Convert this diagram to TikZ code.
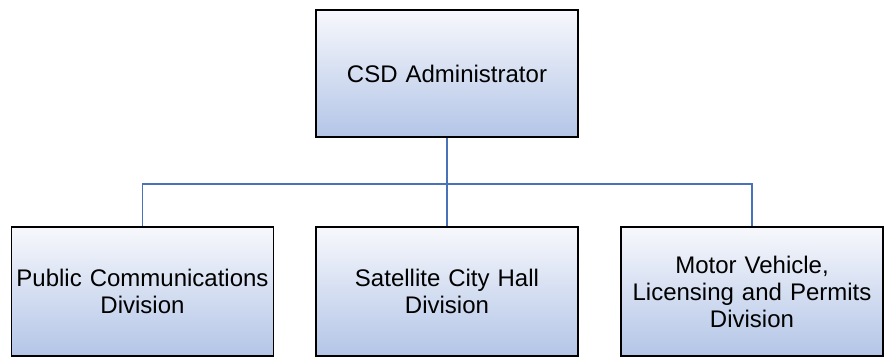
\documentclass[tikz,border=0pt]{standalone}
\usepackage{fontspec}
\setmainfont{Liberation Sans}
\definecolor{boxtop}{HTML}{F7F8FC}
\definecolor{boxbottom}{HTML}{B3C5E7}
\definecolor{linkblue}{HTML}{4A72B8}
\tikzset{
  unit/.style={draw=black, line width=1.6pt, top color=boxtop, bottom color=boxbottom,
    minimum width=262pt, inner sep=0pt, align=center, text width=256pt,
    font=\fontsize{24}{27}\selectfont},
  link/.style={draw=linkblue, line width=1.6pt}
}
\begin{document}
\begin{tikzpicture}[x=1pt,y=1pt]
      \useasboundingbox (0,0) rectangle (885,358);
      \node[unit, minimum height=127pt] (admin) at (447,284.5) {CSD Administrator};
      \node[unit, minimum height=129pt] (pcd) at (142.5,66.5) {Public Communications\\Division};
      \node[unit, minimum height=129pt] (sch) at (447,66.5) {Satellite City Hall\\Division};
      \node[unit, minimum height=129pt] (mvd) at (752,66.5) {Motor Vehicle,\\Licensing and Permits\\Division};
      \coordinate (bus) at (447,174);
      \draw[link] (admin.south) -- (bus) -- (sch.north);
      \draw[link] (pcd.north) |- (bus) -| (mvd.north);
    \end{tikzpicture}
\end{document}
